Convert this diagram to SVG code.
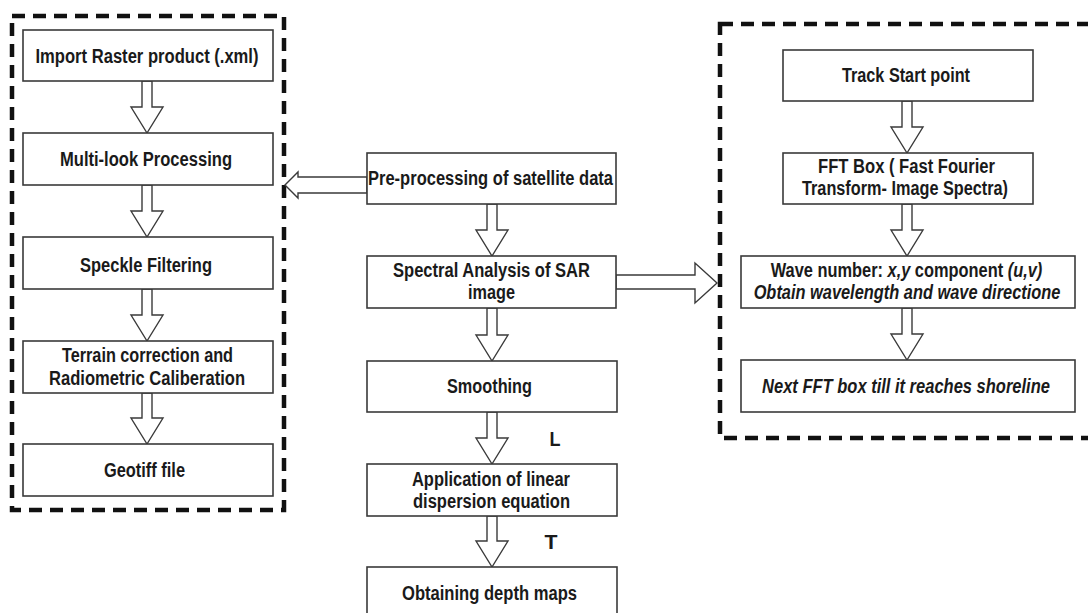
<svg xmlns="http://www.w3.org/2000/svg" width="1088" height="613" viewBox="0 0 1088 613">
<style>
.bx{fill:#fff;stroke:#3a3a3a;stroke-width:1.6}
.ar{fill:#fff;stroke:#3a3a3a;stroke-width:1.4;stroke-linejoin:miter}
.ds{fill:none;stroke:#111;stroke-width:4.5;stroke-dasharray:13 8}
text{font-family:"Liberation Sans",Arial,sans-serif;font-size:20px;font-weight:bold;fill:#1a1a1a;text-anchor:middle}
.it{font-style:italic}
.st{text-anchor:start}
</style>
<rect width="1088" height="613" fill="#fff"/>
<g id="groups">
<rect id="left-group" class="ds" x="12" y="16" width="272" height="494"/>
<rect id="right-group" class="ds" x="720" y="24" width="400" height="414"/>
</g>
<g id="connectors">
<polygon class="ar" points="142,81 142,107 131,107 147,133 163,107 152,107 152,81"/>
<polygon class="ar" points="142,185 142,211 131,211 147,237 163,211 152,211 152,185"/>
<polygon class="ar" points="142,289 142,315 131,315 147,341 163,315 152,315 152,289"/>
<polygon class="ar" points="142,393 142,418 131,418 147,444 163,418 152,418 152,393"/>
<polygon class="ar" points="487,204 487,230 476,230 492,256 508,230 497,230 497,204"/>
<polygon class="ar" points="487,308 487,335 476,335 492,361 508,335 497,335 497,308"/>
<polygon class="ar" points="487,412 487,438 476,438 492,464 508,438 497,438 497,412"/>
<polygon class="ar" points="487,516 487,541 476,541 492,567 508,541 497,541 497,516"/>
<polygon class="ar" points="902,101 902,127 891,127 907,153 923,127 912,127 912,101"/>
<polygon class="ar" points="902,204 902,230 891,230 907,256 923,230 912,230 912,204"/>
<polygon class="ar" points="902,308 902,334 891,334 907,360 923,334 912,334 912,308"/>
<polygon class="ar" points="367,177 298,177 298,172 285,185 298,198 298,193 367,193"/>
<polygon class="ar" points="616,275 695,275 695,263 717,283 695,303 695,289 616,289"/>
<text x="555" y="446" textLength="11" lengthAdjust="spacingAndGlyphs">L</text>
<text x="551" y="549" textLength="13" lengthAdjust="spacingAndGlyphs">T</text>
</g>
<g id="import">
<rect class="bx" x="23" y="30" width="250" height="51"/>
<text x="147" y="63" textLength="223" lengthAdjust="spacingAndGlyphs">Import Raster product (.xml)</text>
</g>
<g id="multilook">
<rect class="bx" x="23" y="133" width="250" height="52"/>
<text x="146" y="166" textLength="172" lengthAdjust="spacingAndGlyphs">Multi-look Processing</text>
</g>
<g id="speckle">
<rect class="bx" x="23" y="237" width="250" height="52"/>
<text x="146" y="272" textLength="132" lengthAdjust="spacingAndGlyphs">Speckle Filtering</text>
</g>
<g id="terrain">
<rect class="bx" x="23" y="341" width="250" height="52"/>
<text x="147.5" y="362" textLength="171" lengthAdjust="spacingAndGlyphs">Terrain correction and</text>
<text x="147" y="385" textLength="196" lengthAdjust="spacingAndGlyphs">Radiometric Caliberation</text>
</g>
<g id="geotiff">
<rect class="bx" x="23" y="444" width="250" height="52"/>
<text x="144.5" y="477" textLength="81" lengthAdjust="spacingAndGlyphs">Geotiff file</text>
</g>
<g id="preprocessing">
<rect class="bx" x="367" y="153" width="249" height="51"/>
<text x="490.5" y="185" textLength="245" lengthAdjust="spacingAndGlyphs">Pre-processing of satellite data</text>
</g>
<g id="spectral">
<rect class="bx" x="367" y="256" width="249" height="52"/>
<text x="491.5" y="277" textLength="197" lengthAdjust="spacingAndGlyphs">Spectral Analysis of SAR</text>
<text x="491.5" y="299" textLength="47" lengthAdjust="spacingAndGlyphs">image</text>
</g>
<g id="smoothing">
<rect class="bx" x="367" y="361" width="250" height="51"/>
<text x="489.5" y="393" textLength="85" lengthAdjust="spacingAndGlyphs">Smoothing</text>
</g>
<g id="dispersion">
<rect class="bx" x="367" y="464" width="250" height="52"/>
<text x="491" y="486" textLength="158" lengthAdjust="spacingAndGlyphs">Application of linear</text>
<text x="491.5" y="508" textLength="157" lengthAdjust="spacingAndGlyphs">dispersion equation</text>
</g>
<g id="depth">
<rect class="bx" x="367" y="567" width="250" height="52"/>
<text x="489.5" y="600" textLength="175" lengthAdjust="spacingAndGlyphs">Obtaining depth maps</text>
</g>
<g id="track">
<rect class="bx" x="783" y="50" width="250" height="51"/>
<text x="906" y="82" textLength="128" lengthAdjust="spacingAndGlyphs">Track Start point</text>
</g>
<g id="fft">
<rect class="bx" x="783" y="153" width="250" height="51"/>
<text x="906.5" y="173" textLength="177" lengthAdjust="spacingAndGlyphs">FFT Box ( Fast Fourier</text>
<text x="905" y="195" textLength="206" lengthAdjust="spacingAndGlyphs">Transform- Image Spectra)</text>
</g>
<g id="wavenumber">
<rect class="bx" x="741" y="256" width="334" height="52"/>
<text transform="translate(906.5,277) scale(0.82,1)" x="0" y="0">Wave number: <tspan class="it">x,y</tspan> component <tspan class="it">(u,v)</tspan></text>
<text class="it" transform="translate(907,299) scale(0.82,1)" x="0" y="0">Obtain wavelength and wave directione</text>
</g>
<g id="nextfft">
<rect class="bx" x="741" y="360" width="334" height="52"/>
<text class="it" transform="translate(906,393) scale(0.825,1)" x="0" y="0">Next FFT box till it reaches shoreline</text>
</g>
</svg>
